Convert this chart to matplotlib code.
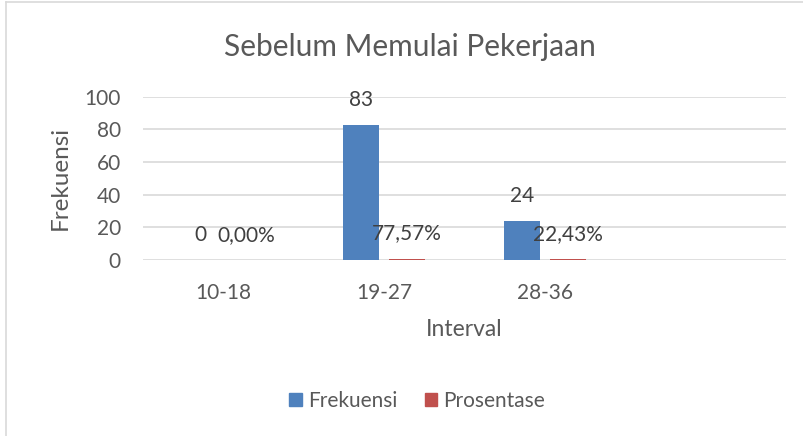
import numpy as np
import matplotlib.pyplot as plt
from matplotlib.lines import Line2D

plt.rcParams['font.family'] = ['Lato', 'DejaVu Sans']

# data
categories = ['10-18', '19-27', '28-36', '']
frekuensi = [0, 83, 24, np.nan]
prosentase = [0.0, 0.7757, 0.2243, np.nan]
frek_labels = ['0', '83', '24']
pros_labels = ['0,00%', '77,57%', '22,43%']

text_color = '#595959'
blue = '#4F81BD'
red = '#C0504D'

fig = plt.figure(figsize=(8.04, 4.36), dpi=100)
ax = fig.add_axes([0.178, 0.404, 0.800, 0.374])

x = np.arange(len(categories))
w = 0.225
off = 0.143
ax.bar(x - off, frekuensi, w, color=blue, label='Frekuensi', zorder=3)
ax.bar(x + off, prosentase, w, color=red, label='Prosentase', zorder=3)

for i in range(3):
    ax.annotate(frek_labels[i], (x[i] - off, frekuensi[i]), xytext=(0, 18),
                textcoords='offset points', ha='center', va='center',
                fontsize=15, color='#404040', zorder=4)
    ax.annotate(pros_labels[i], (x[i] + off, prosentase[i]), xytext=(0, 18),
                textcoords='offset points', ha='center', va='center',
                fontsize=15, color='#404040', zorder=4)

ax.set_xlim(-0.5, len(categories) - 0.5)
ax.set_ylim(0, 100)
ax.set_yticks(np.arange(0, 101, 20))
ax.set_xticks(x[:3])
ax.set_xticklabels(categories[:3])
ax.tick_params(axis='both', length=0, labelsize=15, colors=text_color)
ax.tick_params(axis='y', pad=16)
ax.tick_params(axis='x', pad=17)
ax.grid(axis='y', color='#D9D9D9', linewidth=1.2, zorder=0)
for s in ax.spines.values():
    s.set_visible(False)

fig.text(0.51, 0.892, 'Sebelum Memulai Pekerjaan', fontsize=21.5, color=text_color,
         ha='center', va='center')
fig.text(0.577, 0.245, 'Interval', fontsize=16.5, color=text_color, ha='center', va='center')
fig.text(0.075, 0.592, 'Frekuensi', fontsize=17.5, color=text_color, ha='center', va='center',
         rotation=90)

handles = [plt.Rectangle((0, 0), 1, 1, color=blue), plt.Rectangle((0, 0), 1, 1, color=red)]
leg = fig.legend(handles, ['Frekuensi', 'Prosentase'], loc='center', bbox_to_anchor=(0.519, 0.08),
                 ncol=2, frameon=False, fontsize=15, handlelength=0.6, handleheight=0.6,
                 handletextpad=0.3, columnspacing=1.3)
for t in leg.get_texts():
    t.set_color(text_color)

# chart border (top and left edges visible)
fig.add_artist(Line2D([6 / 804, 6 / 804], [0, 1 - 2 / 436], color='#D9D9D9', lw=1.2))
fig.add_artist(Line2D([6 / 804, 1], [1 - 2 / 436, 1 - 2 / 436], color='#D9D9D9', lw=1.2))

plt.savefig('out.png', dpi=100)
